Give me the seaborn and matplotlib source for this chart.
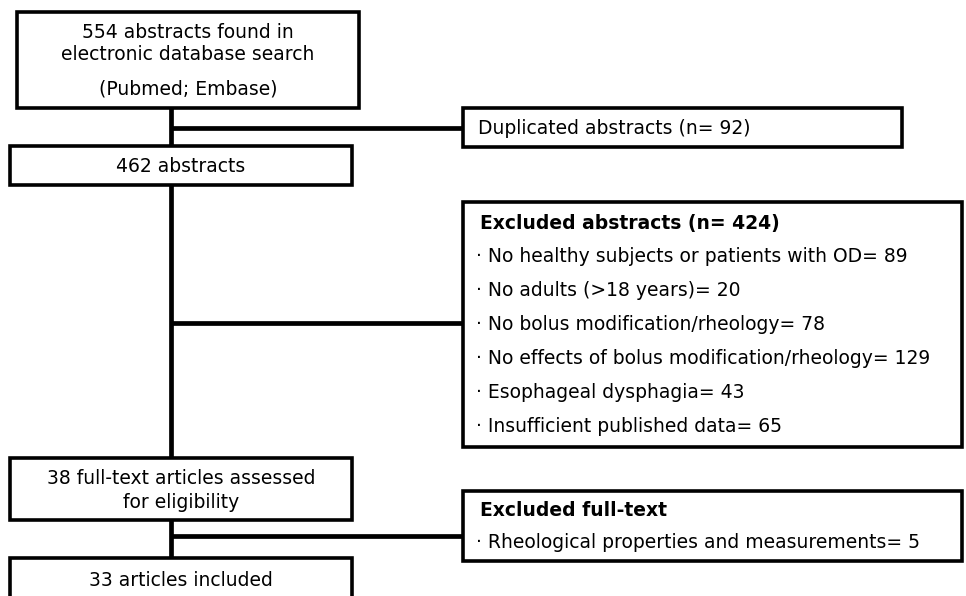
"""
PRISMA-style flow diagram of the literature search
"""

import matplotlib.pyplot as plt
from matplotlib.patches import Rectangle
import seaborn as sns

# ---- content ----
search_lines = ['554 abstracts found in', 'electronic database search', '(Pubmed; Embase)']
duplicated_text = 'Duplicated abstracts (n= 92)'
screened_text = '462 abstracts'
excluded_title = 'Excluded abstracts (n= 424)'
excluded_reasons = ['No healthy subjects or patients with OD', 'No adults (>18 years)',
                    'No bolus modification/rheology', 'No effects of bolus modification/rheology',
                    'Esophageal dysphagia', 'Insufficient published data']
excluded_counts = [89, 20, 78, 129, 43, 65]
fulltext_lines = ['38 full-text articles assessed', 'for eligibility']
fulltext_excl_title = 'Excluded full-text'
fulltext_excl_reasons = ['Rheological properties and measurements']
fulltext_excl_counts = [5]
included_text = '33 articles included'

sns.set_theme(style='white')
plt.rcParams['font.family'] = ['DejaVu Sans']
plt.rcParams['text.color'] = 'black'

W, H = 966, 596
fig = plt.figure(figsize=(W / 100, H / 100), dpi=100)
ax = fig.add_axes([0, 0, 1, 1])
ax.set_xlim(0, W)
ax.set_ylim(H, 0)
ax.axis('off')

FS = 13.5
BOX_LW = 2.6
LINE_LW = 3.4


def box(x0, y0, x1, y1):
    ax.add_patch(Rectangle((x0, y0), x1 - x0, y1 - y0, facecolor='white',
                           edgecolor='black', linewidth=BOX_LW, zorder=3))


def label(x, y, txt, ha='center', bold=False):
    ax.text(x, y, txt, ha=ha, va='center', fontsize=FS, color='black',
            fontweight='bold' if bold else 'normal', zorder=4)


def line(xs, ys):
    ax.plot(xs, ys, color='black', linewidth=LINE_LW, solid_capstyle='butt', zorder=2)


# connectors
trunk_x = 171
line([trunk_x, trunk_x], [108, 146])
line([trunk_x, trunk_x], [185, 458])
line([trunk_x, trunk_x], [520, 558])
line([trunk_x, 463], [128, 128])
line([trunk_x, 463], [323, 323])
line([trunk_x, 463], [536, 536])

# search box
box(17, 12, 359, 108)
for txt, y in zip(search_lines, [33, 55, 89]):
    label(188, y, txt)

# duplicated
box(463, 108, 902, 147)
label(478, 128, duplicated_text, ha='left')

# screened
box(10, 146, 352, 185)
label(181, 166, screened_text)

# excluded abstracts
box(463, 202, 962, 447)
label(480, 223, excluded_title, ha='left', bold=True)
for i, (reason, n) in enumerate(zip(excluded_reasons, excluded_counts)):
    label(476, 257 + i * 34, f'\u00b7 {reason}= {n}', ha='left')

# full text
box(10, 458, 352, 520)
for txt, y in zip(fulltext_lines, [479, 502]):
    label(181, y, txt)

# excluded full text
box(463, 491, 962, 561)
label(480, 510, fulltext_excl_title, ha='left', bold=True)
for reason, n in zip(fulltext_excl_reasons, fulltext_excl_counts):
    label(476, 543, f'\u00b7 {reason}= {n}', ha='left')

# included
box(10, 558, 352, 600)
label(181, 580, included_text)

fig.savefig('out.png', dpi=100, facecolor='white')
plt.close(fig)
